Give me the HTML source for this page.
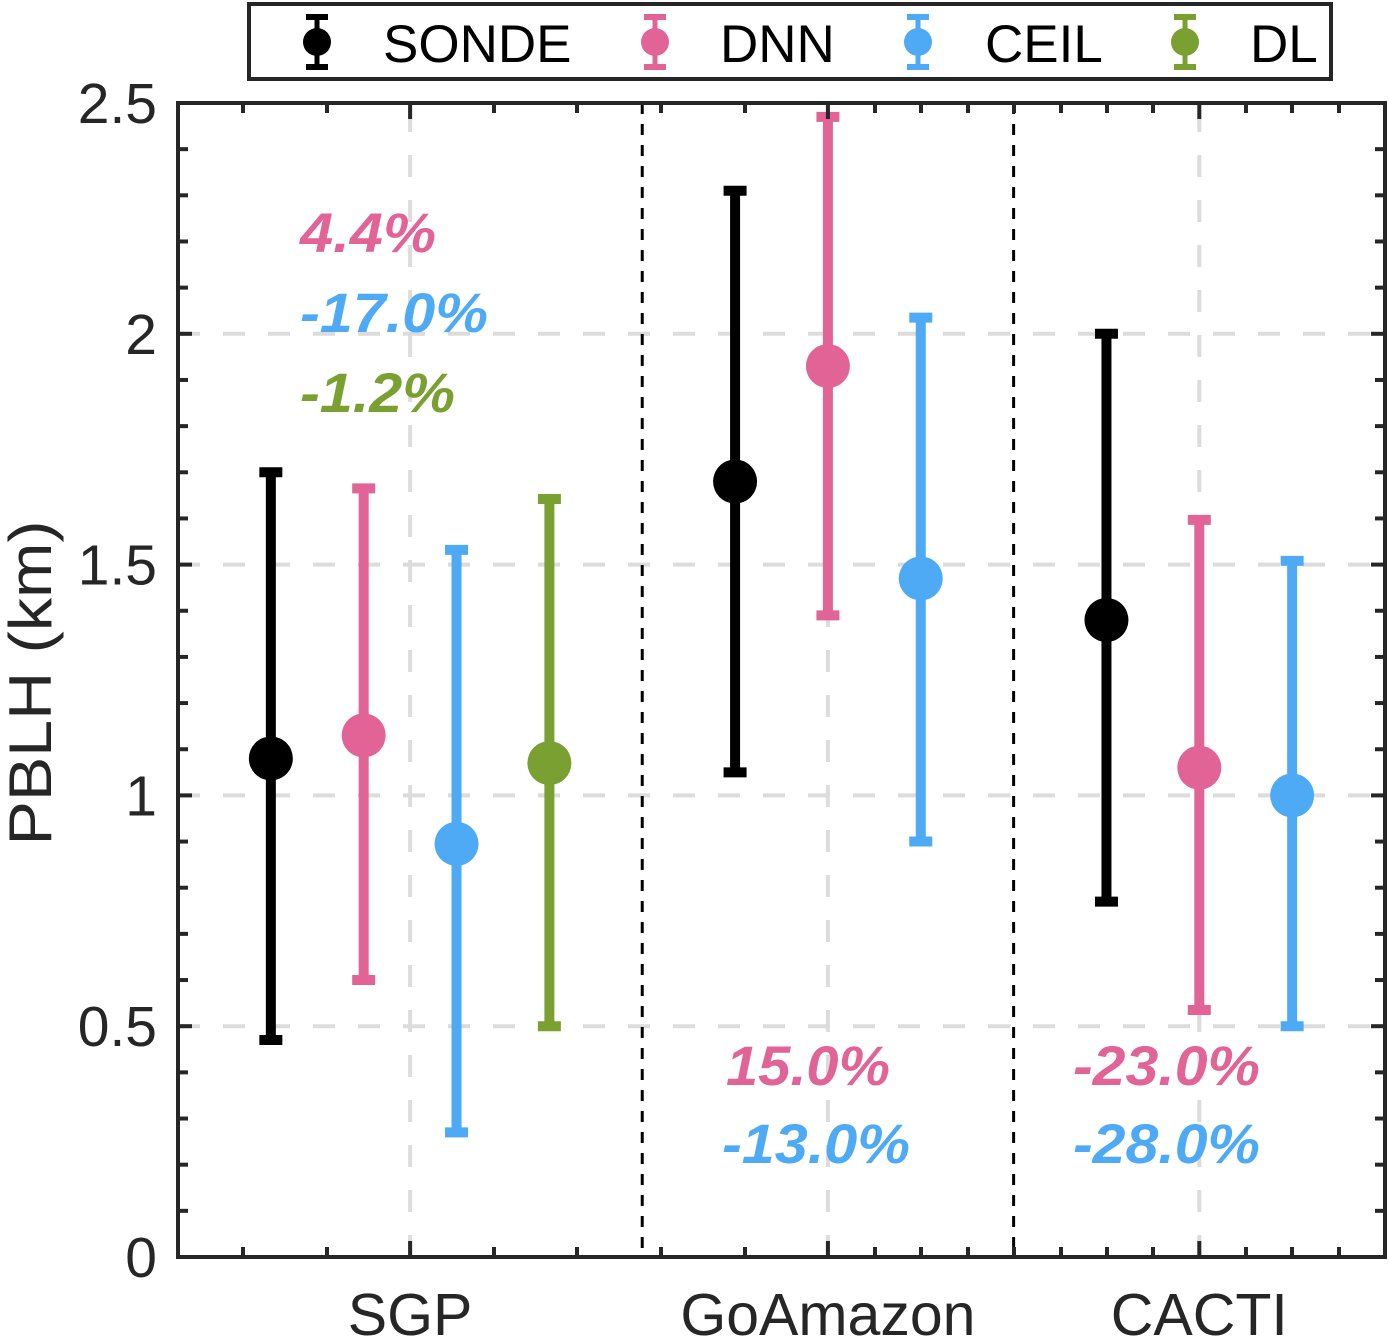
<!DOCTYPE html>
<html><head><meta charset="utf-8"><style>
html,body{margin:0;padding:0;background:#fff}
svg{display:block;font-family:"Liberation Sans",Arial,sans-serif}
</style></head><body>
<svg id="chart" width="1389" height="1339" viewBox="0 0 1389 1339" xmlns="http://www.w3.org/2000/svg">
<g id="grid"></g>
<g id="seps"></g>
<g id="marks"></g>
<g id="annots"></g>
<g id="axes"></g>
<g id="legend"></g>
</svg>
<script>
const series = ["SONDE","DNN","CEIL","DL"];
const colors = ["#000000","#e26396","#4eaaf5","#7ba032"];
const sites = ["SGP","GoAmazon","CACTI"];
const sitePos = [2.5, 7, 11];
const sondeMean = [1.08, 1.68, 1.38];
const sondeLo = [0.47, 1.05, 0.77];
const sondeHi = [1.70, 2.31, 2.00];
const dnnMean = [1.13, 1.93, 1.06];
const dnnLo = [0.60, 1.39, 0.535];
const dnnHi = [1.665, 2.47, 1.597];
const ceilMean = [0.895, 1.47, 1.00];
const ceilLo = [0.27, 0.90, 0.50];
const ceilHi = [1.532, 2.035, 1.508];
const dlMean = [1.07, null, null];
const dlLo = [0.50, null, null];
const dlHi = [1.642, null, null];
const xPos = [[1,2,3,4],[6,7,8],[10,11,12]];
const yTicks = [0, 0.5, 1, 1.5, 2, 2.5];
const yTickLabels = ["0","0.5","1","1.5","2","2.5"];
const separators = [5, 9];
const annText = [["4.4%","-17.0%","-1.2%"],["15.0%","-13.0%"],["-23.0%","-28.0%"]];
const annSeries = [[1,2,3],[1,2],[1,2]];

const L=178,R=1385,T=103,B=1257;
const X=u=>L+u*(R-L)/13;
const Y=v=>B-v*(B-T)/2.5;
const NS="http://www.w3.org/2000/svg";
function mk(parent,tag,attrs,text){const e=document.createElementNS(NS,tag);for(const k in attrs)e.setAttribute(k,attrs[k]);if(text!==undefined)e.textContent=text;parent.appendChild(e);return e;}
const grid=document.getElementById('grid'),seps=document.getElementById('seps'),marks=document.getElementById('marks'),annots=document.getElementById('annots'),axes=document.getElementById('axes'),legend=document.getElementById('legend');

yTicks.forEach(v=>{if(v>0&&v<2.5){const g=mk(grid,'line',{x1:L,x2:R,y1:Y(v),y2:Y(v),stroke:'#dcdcdc','stroke-width':4,'stroke-dasharray':'22 23'});

}});
sitePos.forEach(p=>{const g=mk(grid,'line',{x1:X(p),x2:X(p),y1:B,y2:T,stroke:'#dcdcdc','stroke-width':4,'stroke-dasharray':'22 23'});

});
separators.forEach(p=>{const s=mk(seps,'line',{x1:X(p),x2:X(p),y1:T,y2:B,stroke:'#000','stroke-width':3,'stroke-dasharray':'11 10'});

});

const means=[sondeMean,dnnMean,ceilMean,dlMean],los=[sondeLo,dnnLo,ceilLo,dlLo],his=[sondeHi,dnnHi,ceilHi,dlHi];
for(let s=0;s<sites.length;s++){
  xPos[s].forEach((xp,k)=>{
    const i=k;const m=means[i][s];if(m===null)return;
    const x=X(xp),c=colors[i];
    const g=mk(marks,'g',{});
    
    
    mk(g,'line',{x1:x,x2:x,y1:Y(los[i][s]),y2:Y(his[i][s]),stroke:c,'stroke-width':10});
    mk(g,'line',{x1:x-11.5,x2:x+11.5,y1:Y(los[i][s]),y2:Y(los[i][s]),stroke:c,'stroke-width':10});
    mk(g,'line',{x1:x-11.5,x2:x+11.5,y1:Y(his[i][s]),y2:Y(his[i][s]),stroke:c,'stroke-width':10});
    const p=mk(g,'circle',{cx:x,cy:Y(m),r:22,fill:c});
    
    
  });
}

const annX=[300,726,1073],annY0=[252,1085,1085],annDy=[80,78,78];
const annW=[[136,188,155],[164,188],[187,187]];
const annXo=[[0,0,0],[0,-4],[0,0]];
annText.forEach((arr,s)=>arr.forEach((t,j)=>{
  const e=mk(annots,'text',{x:annX[s]+annXo[s][j],y:annY0[s]+j*annDy[s],fill:colors[annSeries[s][j]],'font-size':56,'font-weight':'bold','font-style':'italic',textLength:annW[s][j],lengthAdjust:'spacingAndGlyphs'},t);
  
  
}));

const fr=mk(axes,'rect',{x:L,y:T,width:R-L,height:B-T,fill:'none',stroke:'#262626','stroke-width':4});


for(let v=0;v<=2.5001;v+=0.1){const maj=Math.abs(v*2-Math.round(v*2))<1e-6;const len=maj?14:10;
  mk(axes,'line',{x1:L,x2:L+len,y1:Y(v),y2:Y(v),stroke:'#262626','stroke-width':4});
  mk(axes,'line',{x1:R,x2:R-len,y1:Y(v),y2:Y(v),stroke:'#262626','stroke-width':4});}
yTicks.forEach((v,i)=>{const t=mk(axes,'text',{x:157,y:Y(v)+20,'text-anchor':'end','font-size':57,fill:'#262626'},yTickLabels[i]);

});
const minorX=[243,327,494,577,661,745,875,921,968,1014,1061,1107,1153,1246,1292,1339];
minorX.forEach(x=>{mk(axes,'line',{x1:x,x2:x,y1:B,y2:B-10,stroke:'#262626','stroke-width':4});mk(axes,'line',{x1:x,x2:x,y1:T,y2:T+10,stroke:'#262626','stroke-width':4});});
sitePos.forEach((p,i)=>{const x=X(p);
  mk(axes,'line',{x1:x,x2:x,y1:B,y2:B-16,stroke:'#262626','stroke-width':4});
  mk(axes,'line',{x1:x,x2:x,y1:T,y2:T+16,stroke:'#262626','stroke-width':4});
  const t=mk(axes,'text',{x:x,y:1335,'text-anchor':'middle','font-size':59,fill:'#262626'},sites[i]);
  
  });
const yt=mk(axes,'text',{x:0,y:0,transform:'translate(51,683) rotate(-90)','text-anchor':'middle','font-size':60,fill:'#262626',textLength:325,lengthAdjust:'spacingAndGlyphs'},'PBLH (km)');



const lb=mk(legend,'rect',{x:249,y:4,width:1082,height:75,fill:'#fff',stroke:'#262626','stroke-width':4});


const legMX=[317,655,918,1185],legTX=[383,720,985,1250];
series.forEach((s,i)=>{const g=mk(legend,'g',{});
  
  
  const c=colors[i],x=legMX[i];
  mk(g,'line',{x1:x,x2:x,y1:17,y2:67,stroke:c,'stroke-width':5});
  mk(g,'line',{x1:x-11,x2:x+11,y1:17,y2:17,stroke:c,'stroke-width':6});
  mk(g,'line',{x1:x-11,x2:x+11,y1:67,y2:67,stroke:c,'stroke-width':6});
  mk(g,'circle',{cx:x,cy:42,r:14,fill:c});
  mk(g,'text',{x:legTX[i],y:62,'font-size':53,fill:'#000'},s);
});
</script>
</body></html>
